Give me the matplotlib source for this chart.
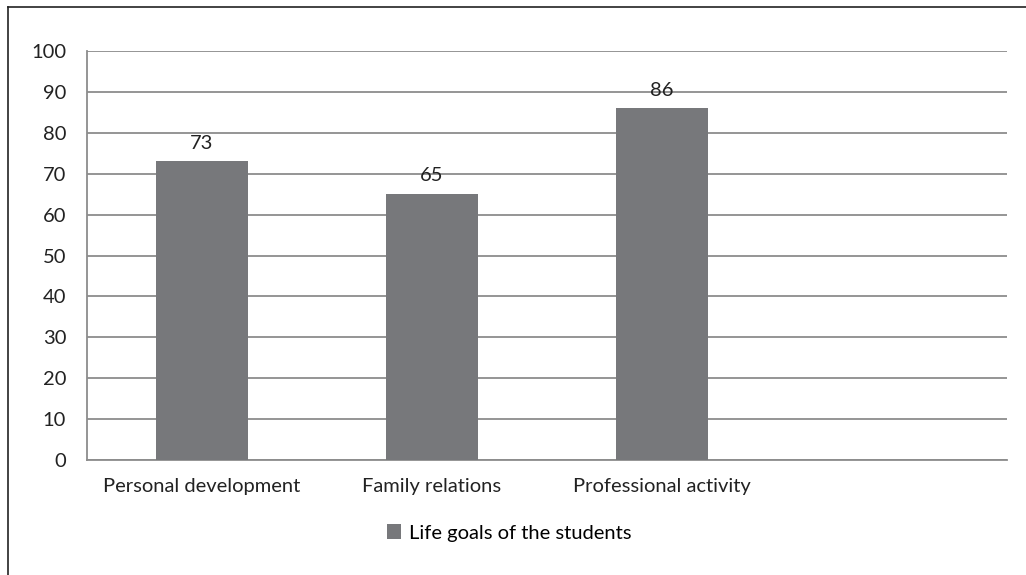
import matplotlib.pyplot as plt
from matplotlib.lines import Line2D

categories = ["Personal development", "Family relations", "Professional activity"]
values = [73, 65, 86]
series_name = "Life goals of the students"
n_slots = 4  # the chart keeps an empty fourth slot on the right

plt.rcParams['font.family'] = ['Lato', 'DejaVu Sans']

fig = plt.figure(figsize=(10.26, 5.75), dpi=100)
ax = fig.add_axes([0.0848, 0.2, 0.8967, 0.7113])

bar_color = '#77787b'
grid_color = '#8c8c8c'
fs = 14.5
x = list(range(len(categories)))
bars = ax.bar(x, values, width=0.4, color=bar_color, label=series_name, zorder=3)
for b, v in zip(bars, values):
    ax.annotate(str(v), (b.get_x() + b.get_width() / 2, v), xytext=(0, 7),
                textcoords='offset points', ha='center', va='bottom',
                fontsize=fs, color='#222222')

ax.set_xlim(-0.5, n_slots - 0.5)
ax.set_ylim(0, 100)
ax.set_yticks(range(0, 101, 10))
ax.set_xticks(x)
ax.set_xticklabels(categories)
ax.yaxis.grid(True, color=grid_color, linewidth=1.3, zorder=0)
ax.tick_params(axis='both', length=0, labelsize=fs, colors='#222222')
ax.tick_params(axis='y', pad=15)
ax.tick_params(axis='x', pad=13)
for s in ['top', 'right']:
    ax.spines[s].set_visible(False)
for s in ['left', 'bottom']:
    ax.spines[s].set_color(grid_color)
    ax.spines[s].set_linewidth(1.3)

fig.legend(loc='center', bbox_to_anchor=(0.496, 0.073), frameon=False,
           fontsize=fs, handlelength=0.7, handleheight=0.7, handletextpad=0.4)

# outer frame (left and top edges only visible)
fig.add_artist(Line2D([8 / 1026, 8 / 1026], [0, 1 - 7 / 575], color='#222222',
                      linewidth=1.2, transform=fig.transFigure))
fig.add_artist(Line2D([8 / 1026, 1], [1 - 7 / 575, 1 - 7 / 575], color='#222222',
                      linewidth=1.2, transform=fig.transFigure))

fig.savefig('out.png', dpi=100)
